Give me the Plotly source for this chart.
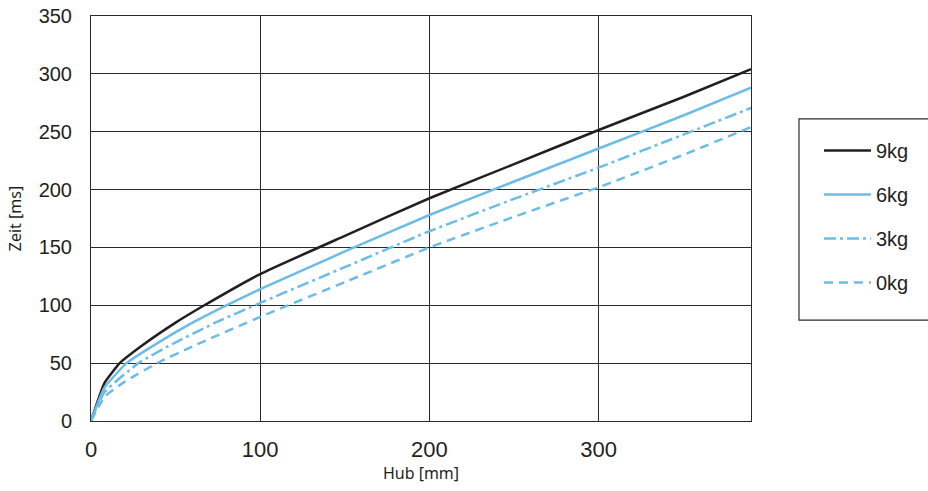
import plotly.graph_objects as go

# Hub [mm] / Zeit [ms]
hub_9kg = [0, 8, 17, 30, 50, 67, 100, 150, 200, 250, 300, 350, 390]
zeit_9kg = [0, 33, 50, 65, 85, 100, 127, 160, 192.5, 222, 251.5, 280, 304]

hub_6kg = [0, 8, 21, 40, 60, 80, 100, 150, 200, 250, 300, 350, 390]
zeit_6kg = [0, 29, 50, 68, 85, 100, 114, 146.5, 178, 207, 235.5, 264, 288]

hub_3kg = [0, 8, 28, 50, 75, 100, 150, 200, 250, 300, 350, 390]
zeit_3kg = [0, 25, 50, 68, 86, 102, 133, 164, 192, 219, 247.5, 270.5]

hub_0kg = [0, 8, 20, 39, 60, 100, 150, 200, 250, 300, 350, 390]
zeit_0kg = [0, 21, 34, 50, 64.5, 90, 120, 150, 176.5, 202, 230, 254]

x_ticks = [0, 100, 200, 300]
y_ticks = [0, 50, 100, 150, 200, 250, 300, 350]

BLACK = "#231f20"
BLUE = "#6cbce8"
GRID = "#2a2a2a"
FONT = "Liberation Sans, Arial, sans-serif"
TITLE_FONT = "Noto Sans, Open Sans, sans-serif"

fig = go.Figure()
series = [
    ("9kg", hub_9kg, zeit_9kg, BLACK, "solid"),
    ("6kg", hub_6kg, zeit_6kg, BLUE, "solid"),
    ("3kg", hub_3kg, zeit_3kg, BLUE, "12px,4px,3px,4px"),
    ("0kg", hub_0kg, zeit_0kg, BLUE, "9px,6px"),
]
for name, xs, ys, col, dash in series:
    fig.add_trace(go.Scatter(
        x=xs, y=ys, mode="lines", name=name, legendgroup=name,
        line=dict(color=col, width=2.5, dash=dash, shape="spline", smoothing=0.4),
    ))

axis_common = dict(
    showgrid=True, gridcolor=GRID, gridwidth=1,
    showline=True, linecolor=GRID, linewidth=1, mirror=True,
    zeroline=False, ticks="", automargin=False, ticklabeloverflow="allow",
)

# legend frame (right side runs off the page, as in the reference)
fig.add_shape(type="rect", xref="paper", yref="paper",
              x0=1.0727, x1=1.32, y0=0.249, y1=0.746,
              line=dict(color=GRID, width=1.2), fillcolor="rgba(0,0,0,0)")

fig.update_layout(
    width=928, height=491,
    margin=dict(l=91, r=177, t=16, b=70, autoexpand=False),
    paper_bgcolor="white", plot_bgcolor="white",
    showlegend=True,
    legend=dict(
        x=1.103, y=0.716, xanchor="left", yanchor="top",
        bgcolor="rgba(0,0,0,0)", borderwidth=0,
        font=dict(family=FONT, size=20, color="#231f20"),
        tracegroupgap=15, traceorder="grouped",
        itemwidth=47,
    ),
    xaxis=dict(
        range=[0, 390], tickvals=x_ticks, ticklabelstandoff=9,
        tickfont=dict(family=FONT, size=22, color="#231f20"),
        title=dict(text="Hub [mm]", standoff=4,
                   font=dict(family=TITLE_FONT, size=16, color="#231f20")),
        **axis_common,
    ),
    yaxis=dict(
        range=[0, 350], tickvals=y_ticks, ticklabelstandoff=14,
        tickfont=dict(family=FONT, size=20, color="#231f20"),
        title=dict(text="Zeit [ms]", standoff=13,
                   font=dict(family=TITLE_FONT, size=16, color="#231f20")),
        **axis_common,
    ),
)

# remove the browser's default 8px body margin so the figure sits at (0, 0)
fig.write_html(
    "out.html",
    config={"displayModeBar": False},
    post_script="document.body.style.margin='0';document.body.style.padding='0';",
)
